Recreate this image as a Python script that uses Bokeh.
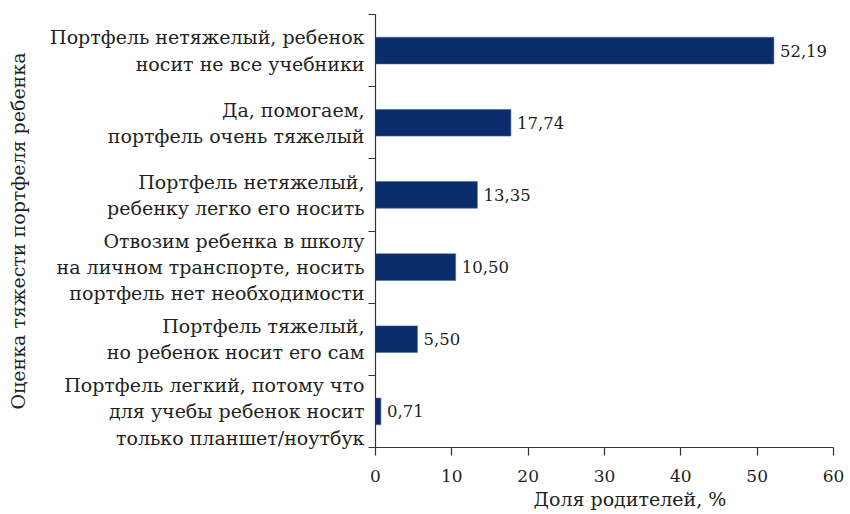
from bokeh.plotting import figure
from bokeh.models import Range1d, FixedTicker, ColumnDataSource, Title
from bokeh.core.properties import value
from bokeh.embed import file_html
from bokeh.resources import INLINE

categories = [
    "Портфель нетяжелый, ребенок\nносит не все учебники",
    "Да, помогаем,\nпортфель очень тяжелый",
    "Портфель нетяжелый,\nребенку легко его носить",
    "Отвозим ребенка в школу\nна личном транспорте, носить\nпортфель нет необходимости",
    "Портфель тяжелый,\nно ребенок носит его сам",
    "Портфель легкий, потому что\nдля учебы ребенок носит\nтолько планшет/ноутбук",
]
values = [52.19, 17.74, 13.35, 10.50, 5.50, 0.71]
value_labels = ["52,19", "17,74", "13,35", "10,50", "5,50", "0,71"]
x_ticks = [0, 10, 20, 30, 40, 50, 60]
x_title = "Доля родителей, %"
y_title = "Оценка тяжести портфеля ребенка"

FONT = "DejaVu Serif"
TXT = "#231f20"
BAR = "#0a2c6d"

n = len(categories)
ypos = [n - 0.5 - i for i in range(n)]

src = ColumnDataSource(dict(y=ypos, v=values, lab=value_labels))

p = figure(width=848, height=514, output_backend="svg", toolbar_location=None,
           x_range=Range1d(0, 60), y_range=Range1d(0, n),
           min_border_left=375, min_border_right=15, min_border_top=14, min_border_bottom=67)
p.outline_line_color = None
p.xgrid.grid_line_color = None
p.ygrid.grid_line_color = None
p.background_fill_color = "white"

p.hbar(y="y", right="v", left=0, height=0.37, source=src,
       fill_color=BAR, line_color="#4d6a9e", line_width=0.6)
p.text(x="v", y="y", text="lab", source=src, x_offset=6,
       text_baseline="middle", text_align="left",
       text_font=value(FONT), text_font_size="16.5px", text_color=TXT)

xa = p.xaxis[0]
xa.ticker = FixedTicker(ticks=x_ticks)
xa.minor_tick_line_color = None
xa.major_tick_in = 0
xa.major_tick_out = 8
xa.major_label_text_font = FONT
xa.major_label_text_font_size = "17px"
xa.major_label_text_color = TXT
xa.major_label_standoff = 14
xa.axis_line_color = "#333333"
xa.major_tick_line_color = "#333333"
xa.axis_line_width = 1.2
xa.major_tick_line_width = 1.2

ya = p.yaxis[0]
ya.ticker = FixedTicker(ticks=ypos, minor_ticks=list(range(n + 1)))
ya.major_label_overrides = {y: c for y, c in zip(ypos, categories)}
ya.major_tick_in = 0
ya.major_tick_out = 0
ya.minor_tick_in = 0
ya.minor_tick_out = 7
ya.minor_tick_line_color = "#333333"
ya.minor_tick_line_width = 1.2
ya.axis_line_color = "#333333"
ya.axis_line_width = 1.2
ya.major_label_text_font = FONT
ya.major_label_text_font_size = "19px"
ya.major_label_text_line_height = 1.2
ya.major_label_text_color = TXT
ya.major_label_standoff = 4
ya.axis_label = y_title
ya.axis_label_text_font = FONT
ya.axis_label_text_font_size = "19px"
ya.axis_label_text_font_style = "normal"
ya.axis_label_text_color = TXT
ya.axis_label_standoff = 18

p.add_layout(Title(text=x_title, align="left", offset=158, standoff=2,
                   text_font=FONT, text_font_size="19px", text_font_style="normal",
                   text_color=TXT), "below")

open("out.html", "w").write(file_html(p, INLINE))
